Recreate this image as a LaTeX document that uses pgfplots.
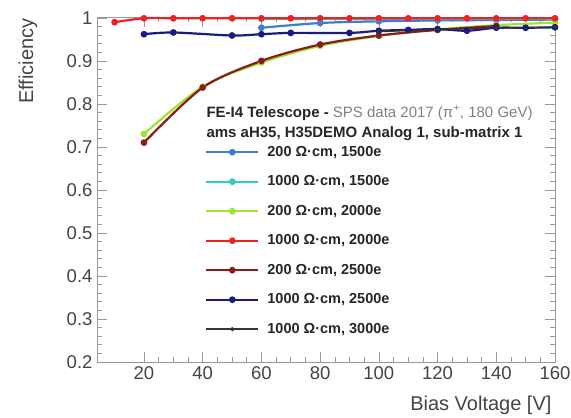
\documentclass[border=0pt]{standalone}
\usepackage{fontspec}
\setmainfont{Liberation Sans}
\usepackage{pgfplots}
\pgfplotsset{compat=1.18}

\definecolor{cBlue}{HTML}{3A7FD0}
\definecolor{cCyan}{HTML}{33CCBB}
\definecolor{cGreen}{HTML}{99E633}
\definecolor{cRed}{HTML}{EE2222}
\definecolor{cDark}{HTML}{8B1A1A}
\definecolor{cNavy}{HTML}{1A1A80}
\definecolor{cBlack}{HTML}{333333}
\definecolor{tickgray}{HTML}{444444}

\begin{document}
\begin{tikzpicture}
\path[use as bounding box] (-97pt,-56pt) rectangle (474pt,362pt);
\begin{axis}[
  scale only axis, width=458pt, height=345pt,
  xmin=4, xmax=160, ymin=0.2, ymax=1.002,
  xtick={20,40,...,160}, minor x tick num=3,
  ytick={0.2,0.3,...,1.0}, minor y tick num=4,
  yticklabels={0.2,0.3,0.4,0.5,0.6,0.7,0.8,0.9,1},
  tick align=inside,
  major tick length=10pt, minor tick length=5pt,
  axis line style={draw=gray!80},
  every tick/.style={gray!80, line width=0.6pt},
  /pgf/number format/assume math mode=true,
  ticklabel style={font=\fontsize{18.5}{18.5}\selectfont, text=tickgray},
  xticklabel style={yshift=-1pt},
  yticklabel style={xshift=-1pt},
  xlabel={Bias Voltage [V]},
  ylabel={Efficiency},
  xlabel style={at={(axis description cs:1,-0.125)}, anchor=east, font=\fontsize{20}{20}\selectfont, text=tickgray},
  ylabel style={at={(axis description cs:-0.151,1.006)}, anchor=east, font=\fontsize{20}{20}\selectfont, text=tickgray},
  legend cell align=left,
  legend image code/.code={\draw[#1, mark=none] (0pt,0pt) -- (52pt,0pt); \draw[#1, only marks] plot coordinates {(26pt,0pt)};},
  legend style={at={(axis description cs:0.2358,0.629)}, anchor=north west, draw=none, fill=none,
    inner sep=0pt, row sep=15.5pt, column sep=8pt,
    font=\fontsize{14.5}{14.5}\selectfont\bfseries, text=black!85,
    nodes={inner sep=0pt, text height=11pt, text depth=3pt}},
  every axis plot/.append style={line width=2.2pt, mark=*, mark size=2.2pt, smooth},
]
\addplot[cBlue, mark options={fill=cBlue}] coordinates {(60,0.977)(80,0.988)(100,0.992)(120,0.994)(140,0.995)(160,0.996)};
\addlegendentry{200 Ω·cm, 1500e}
\addplot[cCyan, mark options={fill=cCyan}] coordinates {(60,0.998)(80,0.998)(100,0.998)(120,0.998)(140,0.998)(160,0.998)};
\addlegendentry{1000 Ω·cm, 1500e}
\addplot[cGreen, mark options={fill=cGreen}] coordinates {(20,0.730)(40,0.840)(60,0.896)(80,0.935)(100,0.958)(120,0.973)(140,0.983)(160,0.989)};
\addlegendentry{200 Ω·cm, 2000e}
\addplot[cRed, mark options={fill=cRed}] coordinates {(10,0.990)(20,0.999)(30,0.999)(40,0.999)(50,0.999)(60,0.999)(70,0.999)(80,0.999)(90,0.999)(100,0.999)(110,0.999)(120,0.999)(130,0.999)(140,0.999)(150,0.999)(160,0.999)};
\addlegendentry{1000 Ω·cm, 2000e}
\addplot[cDark, mark options={fill=cDark}] coordinates {(20,0.710)(40,0.838)(60,0.900)(80,0.938)(100,0.959)(120,0.972)(140,0.981)};
\addlegendentry{200 Ω·cm, 2500e}
\addplot[cNavy, mark options={fill=cNavy}] coordinates {(20,0.962)(30,0.966)(50,0.959)(60,0.962)(70,0.965)(90,0.965)(100,0.970)(110,0.972)(120,0.974)(130,0.970)(140,0.977)(150,0.977)(160,0.978)};
\addlegendentry{1000 Ω·cm, 2500e}
\addplot[cBlack, line width=1.4pt, mark size=1.3pt, mark options={fill=cBlack}] coordinates {(100,0.968)(120,0.973)(140,0.976)(160,0.978)};
\addlegendentry{1000 Ω·cm, 3000e}
\node[anchor=base west, font=\fontsize{15}{15}\selectfont, text=black!85] at (axis description cs:0.2314,0.710) {\textbf{FE-I4 Telescope -} \textcolor{gray}{SPS data 2017 (π\textsuperscript{+}, 180 GeV)}};
\node[anchor=base west, font=\fontsize{15}{15}\selectfont\bfseries, text=black!85] at (axis description cs:0.2314,0.652) {ams aH35, H35DEMO Analog 1, sub-matrix 1};
\end{axis}
\end{tikzpicture}
\end{document}
